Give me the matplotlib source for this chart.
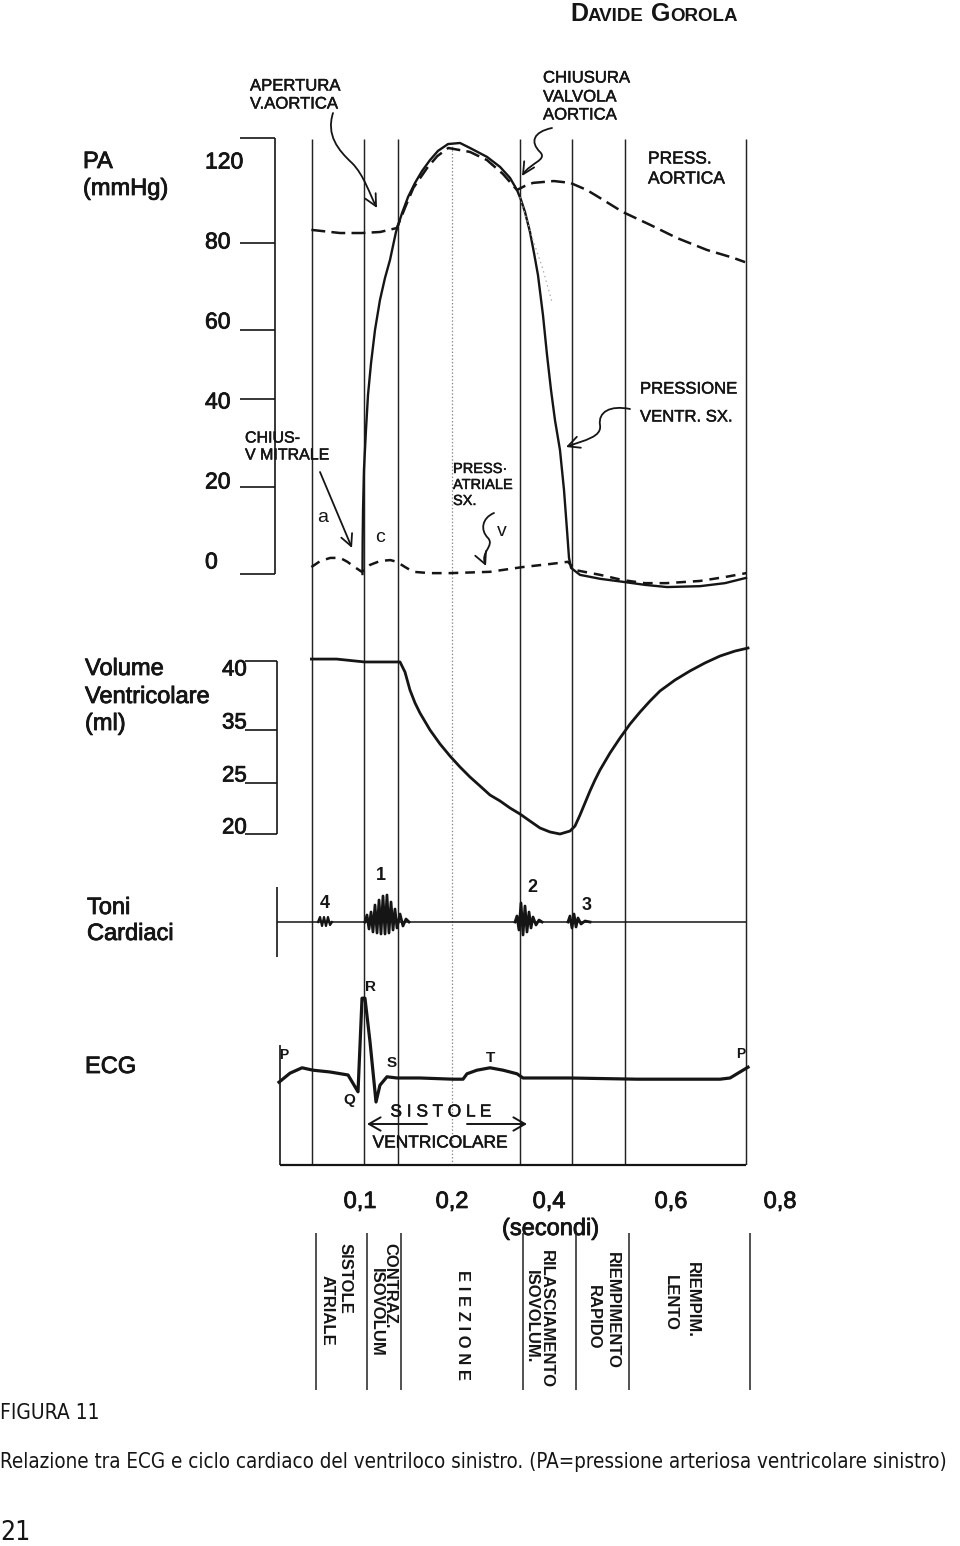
import numpy as np
import matplotlib
matplotlib.use("Agg")
import matplotlib.pyplot as plt
import matplotlib.transforms as mtransforms
import matplotlib.patheffects as pe
from matplotlib.patches import FancyArrowPatch
from matplotlib.path import Path

plt.rcParams['font.family'] = ['Liberation Sans', 'DejaVu Sans']
plt.rcParams['lines.scale_dashes'] = False

W, H = 960, 1546
INK = '#151515'
HEAVY = [pe.withStroke(linewidth=0.6, foreground=INK)]
SEMI = [pe.withStroke(linewidth=0.35, foreground=INK)]

# --- Data ---
time_ticks = [0.1, 0.2, 0.4, 0.6, 0.8]
time_labels = ['0,1', '0,2', '0,4', '0,6', '0,8']

# phase boundaries (s); the dotted line sits at 0,2 s
events = [0.047, 0.104, 0.141, 0.340, 0.438, 0.525, 0.738]
dotted_event = 0.2

pa_ticks = [0, 20, 40, 60, 80, 120]
vol_ticks = [20, 25, 35, 40]

# left ventricular pressure (mmHg)
lv_t = [0.1027, 0.1029, 0.1033, 0.1043, 0.1065, 0.1087, 0.1120, 0.1163, 0.1217, 0.1272,
        0.1326, 0.1391, 0.1457, 0.1522, 0.1598, 0.1674, 0.1761, 0.1848, 0.1957, 0.2165,
        0.2371, 0.2722, 0.2990, 0.3196, 0.3340, 0.3423, 0.3505, 0.3608, 0.3691, 0.3773,
        0.3876, 0.3959, 0.4033, 0.4098, 0.4180, 0.4246, 0.4295, 0.4328, 0.4361, 0.4508,
        0.4836, 0.5213, 0.5574, 0.5934, 0.6532, 0.6991, 0.7376]
lv_p = [0.0, 7.8, 14.7, 23.9, 33.0, 41.2, 50.4, 60.0, 66.9, 72.0,
        76.1, 84.2, 91.4, 97.5, 102.9, 107.4, 111.6, 115.1, 117.7, 118.1,
        116.2, 112.8, 109.0, 104.8, 100.2, 96.4, 91.8, 84.2, 77.7, 72.6,
        63.4, 52.8, 42.6, 35.2, 28.4, 19.3, 10.1, 3.7, 1.4, -0.2,
        -1.1, -1.8, -2.5, -3.0, -2.8, -2.1, -0.9]

# aortic pressure (mmHg)
ao_t = [0.046, 0.078, 0.102, 0.122, 0.140, 0.151, 0.158, 0.173, 0.184, 0.196, 0.237,
        0.272, 0.305, 0.334, 0.350, 0.367, 0.408, 0.435, 0.462, 0.484, 0.521, 0.566,
        0.611, 0.666, 0.714, 0.736]
ao_p = [85.0, 83.8, 83.8, 84.2, 85.7, 95.2, 101.0, 108.6, 113.1, 116.2, 114.7,
        111.6, 106.3, 100.2, 101.7, 102.9, 103.6, 102.9, 100.2, 97.1, 91.8, 86.9,
        81.9, 78.4, 76.6, 75.6]

# left atrial pressure (mmHg)
la_t = [0.046, 0.056, 0.067, 0.078, 0.086, 0.094, 0.102, 0.111, 0.122, 0.133, 0.140,
        0.149, 0.158, 0.176, 0.198, 0.278, 0.346, 0.402, 0.431, 0.443, 0.484, 0.521,
        0.557, 0.593, 0.653, 0.699, 0.738]
la_p = [1.6, 3.0, 3.7, 3.7, 2.8, 1.6, 0.5, 2.1, 3.0, 3.2, 2.8,
        1.6, 0.5, 0.2, 0.2, 0.5, 1.6, 2.3, 2.8, 0.9, -0.2, -1.4,
        -2.1, -2.1, -1.6, -0.7, 0.2]

# faint dotted trace after the aortic valve closes
faint_t = [0.340, 0.367, 0.386, 0.405]
faint_p = [97.5, 81.1, 74.5, 66.4]

# ventricular volume (ml)
vol_t = [0.046, 0.074, 0.105, 0.1435, 0.1489, 0.1543, 0.1598, 0.1652, 0.1761, 0.1870,
         0.1978, 0.2165, 0.2371, 0.2577, 0.2784, 0.2990, 0.3196, 0.3402, 0.3608, 0.3814,
         0.4016, 0.4180, 0.4344, 0.4426, 0.4508, 0.4590, 0.4672, 0.4754, 0.4836, 0.5000,
         0.5164, 0.5328, 0.5492, 0.5656, 0.5820, 0.6073, 0.6349, 0.6624, 0.6899, 0.7174,
         0.7413]
vol_ml = [40.14, 40.14, 39.93, 39.93, 39.20, 37.90, 36.96, 36.23, 35.0, 32.36,
          30.09, 28.02, 26.13, 24.71, 23.82, 23.24, 22.55, 21.96, 21.27, 20.59,
          20.20, 20.0, 20.29, 20.78, 21.86, 23.04, 24.22, 25.57, 27.45, 30.66,
          33.49, 35.43, 36.30, 37.10, 37.83, 38.62, 39.28, 39.86, 40.36, 40.72,
          40.94]

# heart sounds (arbitrary amplitude)
s4_t = [0.0533, 0.0556, 0.0578, 0.0600, 0.0622, 0.0644, 0.0667, 0.0689]
s4_a = [0, 5, -4, 5, -4, 5, -3, 0]
s1_t = [0.1054, 0.1076, 0.1098, 0.1120, 0.1141, 0.1163, 0.1185, 0.1207, 0.1228, 0.1250,
        0.1272, 0.1293, 0.1315, 0.1337, 0.1359, 0.1380, 0.1402, 0.1435, 0.1467, 0.1500,
        0.1533]
s1_a = [0, 7, -7, 10, -10, 17, -11, 22, -12, 26, -12, 27, -11, 20, -8, 13, -6, 8, -4, 3, 0]
s2_t = [0.3299, 0.3340, 0.3381, 0.3423, 0.3464, 0.3505, 0.3546, 0.3588, 0.3629, 0.3670,
        0.3732, 0.3794, 0.3856]
s2_a = [0, 6, -8, 19, -13, 16, -10, 10, -6, 5, -3, 2, 0]
s3_t = [0.4311, 0.4344, 0.4377, 0.4410, 0.4443, 0.4475, 0.4525, 0.4590, 0.4672]
s3_a = [0, 6, -6, 8, -5, 4, -2, 1, 0]

# ECG (mV)
ecg_t = [0.010, 0.0222, 0.0356, 0.0478, 0.0667, 0.0867, 0.0978, 0.1022, 0.1054, 0.1109,
         0.1174, 0.1217, 0.1293, 0.1402, 0.1652, 0.2021, 0.2227, 0.2309, 0.2515, 0.2784,
         0.3052, 0.3340, 0.3464, 0.4344, 0.5443, 0.6899, 0.7083, 0.7266, 0.7413]
ecg_mv = [-0.07, 0.08, 0.17, 0.13, 0.10, 0.05, -0.23, 1.33, 1.33, 0.60,
          -0.40, -0.12, 0.02, 0.0, 0.0, -0.02, -0.02, 0.07, 0.13, 0.17,
          0.13, 0.07, 0.0, 0.0, -0.02, -0.02, 0.0, 0.10, 0.18]

# --- Layout: the drawing's axes are not linear, knots tie values to page pixels ---
X_KNOTS = ([-1.0, 0.0, 0.1, 0.2, 0.4, 0.6, 0.8, 2.0], [-630, 270, 360, 452, 549, 671, 780, 1434])
PA_KNOTS = ([-100, 0, 20, 40, 60, 80, 120, 300], [1009, 574, 487, 399, 330, 243, 138, -334])
VOL_KNOTS = ([0, 20, 25, 35, 40, 60], [1038, 834, 783, 730, 661, 385])


def knot_funcs(vals, px, flip=False):
    vals = np.asarray(vals, float)
    pos = -np.asarray(px, float) if flip else np.asarray(px, float)

    def fwd(v):
        return np.interp(np.asarray(v, float), vals, pos)

    def inv(p):
        return np.interp(np.asarray(p, float), pos, vals)
    return fwd, inv


fig = plt.figure(figsize=(W / 100, H / 100), dpi=100)
fig.patch.set_facecolor('white')
px_tr = mtransforms.Affine2D().scale(1 / W, -1 / H).translate(0, 1) + fig.transFigure
xfun = knot_funcs(*X_KNOTS)


def panel(top, bottom, yknots=None, ylim=None, shift=0.0):
    ax = fig.add_axes([(270 + shift) / W, 1 - bottom / H, 510 / W, (bottom - top) / H])
    ax.set_xscale('function', functions=xfun)
    ax.set_xlim(0, 0.8)
    if yknots is not None:
        fwd, inv = knot_funcs(*yknots, flip=True)
        ax.set_yscale('function', functions=(fwd, inv))
        ax.set_ylim(float(inv(-bottom)), float(inv(-top)))
    else:
        ax.set_ylim(*ylim)
    ax.axis('off')
    ax.patch.set_alpha(0)
    return ax


def ftext(x, y, s, size=12, ha='left', va='center', **kw):
    return fig.text(x, y, s, transform=px_tr, fontsize=size, ha=ha, va=va, color=INK, **kw)


def squiggle(verts, codes, lw=1.3):
    arr = FancyArrowPatch(path=Path(verts, codes), arrowstyle='->,head_length=0.7,head_width=0.35',
                          mutation_scale=12, lw=lw, color=INK, transform=px_tr)
    fig.add_artist(arr)


M, C = Path.MOVETO, Path.CURVE4

# --- event lines through all panels ---
ax_bg = panel(139, 1165, ylim=(0, 1))
ax_bg.vlines(events, 0, 1, color='#222222', lw=1.05)
ax_bg.vlines(dotted_event, 0, 0.995, color='#888888', lw=0.9, linestyles=(0, (1, 1.5)))

# --- arterial / ventricular / atrial pressure ---
ax_pa = panel(100, 620, yknots=PA_KNOTS)
ax_pa.plot(lv_t, lv_p, color=INK, lw=1.7, solid_joinstyle='round')
ax_pa.plot(ao_t, ao_p, color=INK, lw=1.8, ls=(0, (10, 4.5)))
ax_pa.plot(la_t, la_p, color=INK, lw=1.8, ls=(0, (7, 5)))
ax_pa.plot(faint_t, faint_p, color='#aaaaaa', lw=0.9, ls=(0, (1, 2.5)))
ax_pa.vlines(0.0056, 0, 120, color=INK, lw=1.2, clip_on=False)
ax_pa.hlines(pa_ticks, -0.0333, 0.0056, color=INK, lw=1.2, clip_on=False)
pa_label_dy = [-12, -5, 3, -8, -1, 24]  # where the scan puts each label (px below its tick)
for v, dy in zip(pa_ticks, pa_label_dy):
    ax_pa.annotate(str(v), (-0.0722, v), xytext=(0, -dy), textcoords='offset pixels',
                   fontsize=16.5, ha='left', va='center', color=INK, annotation_clip=False,
                   path_effects=HEAVY)

# --- ventricular volume ---
ax_vol = panel(630, 850, yknots=VOL_KNOTS)
ax_vol.plot(vol_t, vol_ml, color=INK, lw=2.0, solid_joinstyle='round')
ax_vol.vlines(0.0078, 20, 40, color=INK, lw=1.2, clip_on=False)
ax_vol.hlines(vol_ticks, -0.0278, 0.0078, color=INK, lw=1.2, clip_on=False)
vol_label_dy = [-6, -7, -7, 9]
for v, dy in zip(vol_ticks, vol_label_dy):
    ax_vol.annotate(str(v), (-0.0533, v), xytext=(0, -dy), textcoords='offset pixels',
                    fontsize=16, ha='left', va='center', color=INK, annotation_clip=False,
                    path_effects=HEAVY)

# --- heart sounds ---
ax_snd = panel(880, 965, ylim=(-43, 42))
ax_snd.hlines(0, 0.0078, events[-1], color=INK, lw=1.1)
ax_snd.vlines(0.0078, -35, 35, color=INK, lw=1.2)
for tt, aa, lw in [(s4_t, s4_a, 1.6), (s1_t, s1_a, 2.0), (s2_t, s2_a, 2.0), (s3_t, s3_a, 2.0)]:
    ax_snd.plot(tt, aa, color=INK, lw=lw)

# --- ECG ---
ax_ecg = panel(980, 1165, ylim=(-1.45, 1.633))
ax_ecg.plot(ecg_t, ecg_mv, color=INK, lw=2.3, solid_joinstyle='round')
ax_ecg.vlines(0.0111, -1.45, 0.55, color=INK, lw=1.2, clip_on=False)
ax_ecg.hlines(-1.45, 0.0111, events[-1], color=INK, lw=1.6, clip_on=False)

# --- time axis and cycle phases (the scan's phase rulers sit ~3 px to the right) ---
ax_time = panel(1180, 1395, ylim=(0, 1))
for t, lab in zip(time_ticks, time_labels):
    ax_time.text(t, 0.898, lab, fontsize=17, ha='center', va='center', color=INK,
                 path_effects=HEAVY)
ax_time.text(0.403, 0.772, '(secondi)', fontsize=17, ha='center', va='center', color=INK,
             path_effects=HEAVY)
ax_ph = panel(1180, 1395, ylim=(0, 1), shift=3.5)
ax_ph.vlines(events, 0.023, 0.753, color='#222222', lw=1.1)

phases = [(345, 1243, 'SISTOLE'), (327, 1275, 'ATRIALE'),
          (390, 1243, 'CONTRAZ.'), (376, 1268, 'ISOVOLUM'),
          (463, 1270, 'E I E Z I O N E'),
          (546, 1250, 'RILASCIAMENTO'), (531, 1270, 'ISOVOLUM.'),
          (612, 1252, 'RIEMPIMENTO'), (593, 1285, 'RAPIDO'),
          (692, 1262, 'RIEMPIM.'), (670, 1275, 'LENTO')]
for x, y, s in phases:
    ftext(x, y, s, size=12, ha='center', va='top', rotation=-90, fontweight='bold')

# --- panel titles ---
for x, y, s in [(83, 162, 'PA'), (83, 189, '(mmHg)'), (85, 669, 'Volume'),
                (85, 697, 'Ventricolare'), (85, 724, '(ml)'), (87, 908, 'Toni'),
                (87, 934, 'Cardiaci'), (85, 1067, 'ECG')]:
    ftext(x, y, s, 17, path_effects=HEAVY)

# --- annotations on the pressure panel ---
notes = [(250, 86, 'APERTURA', 12), (250, 104, 'V.AORTICA', 12),
         (543, 78, 'CHIUSURA', 12), (543, 97, 'VALVOLA', 12), (543, 115, 'AORTICA', 12),
         (648, 159, 'PRESS.', 12.5), (648, 179, 'AORTICA', 12.5),
         (640, 389, 'PRESSIONE', 12), (640, 417, 'VENTR. SX.', 12),
         (245, 438, 'CHIUS-', 11.5), (245, 455, 'V MITRALE', 11.5),
         (453, 469, 'PRESS·', 10.5), (453, 485, 'ATRIALE', 10.5), (453, 501, 'SX.', 10.5)]
for x, y, s, size in notes:
    ftext(x, y, s, size, path_effects=SEMI)
ftext(323, 517, 'a', 14, ha='center')
ftext(380, 538, 'c', 14, ha='center')
ftext(502, 532, 'v', 14, ha='center')

squiggle([(333, 113), (326, 135), (338, 150), (352, 163), (364, 175), (370, 195), (377, 208)],
         [M, C, C, C, C, C, C])
squiggle([(552, 128), (533, 132), (530, 142), (540, 152), (548, 160), (530, 163), (522, 176)],
         [M, C, C, C, C, C, C])
squiggle([(630, 409), (610, 405), (598, 412), (600, 425), (602, 437), (585, 440), (566, 447)],
         [M, C, C, C, C, C, C])
squiggle([(494, 513), (482, 518), (480, 530), (488, 538), (495, 546), (480, 552), (486, 566)],
         [M, C, C, C, C, C, C])
squiggle([(320, 472), (352, 548)], [M, Path.LINETO])

# --- heart sound and ECG labels ---
for x, y, s in [(325, 903, '4'), (381, 876, '1'), (532, 888, '2'), (587, 905, '3')]:
    ftext(x, y, s, 13, ha='center', fontweight='bold')
for x, y, s, size in [(284, 1055, 'P', 10), (370, 987, 'R', 11), (392, 1063, 'S', 11),
                      (490, 1058, 'T', 11), (349, 1100, 'Q', 11), (741, 1054, 'P', 10)]:
    ftext(x, y, s, size, ha='center', fontweight='bold')
ftext(441, 1112, 'S I S T O L E', 12.5, ha='center', path_effects=SEMI)
ftext(440, 1143, 'VENTRICOLARE', 12.5, ha='center', path_effects=SEMI)
for a, b in [((427, 1124), (367, 1124)), ((467, 1124), (527, 1124))]:
    fig.add_artist(FancyArrowPatch(a, b, arrowstyle='->,head_length=0.7,head_width=0.4',
                                   mutation_scale=12, lw=1.4, color=INK, transform=px_tr,
                                   shrinkA=0, shrinkB=0))

# --- page header and caption ---
r = fig.canvas.get_renderer()
x = 570
for s, size in [('D', 18), ('AVIDE', 13.5), (' G', 18), ('OROLA', 13.5)]:
    t = ftext(x, 21, s, size, va='baseline', fontweight='bold')
    x += t.get_window_extent(r).width

cond = dict(family=['DejaVu Sans'], fontstretch='condensed')
ftext(0, 1413, 'FIGURA 11', 15, **cond)
cap = ftext(0, 1462, 'Relazione tra ECG e ciclo cardiaco del ventriloco sinistro. '
            '(PA=pressione arteriosa ventricolare sinistro)', 14, **cond)
cap.set_fontsize(14 * 955 / cap.get_window_extent(r).width)
ftext(0, 1533, '21', 19, **cond)

fig.savefig('out.png', dpi=100, facecolor='white')
